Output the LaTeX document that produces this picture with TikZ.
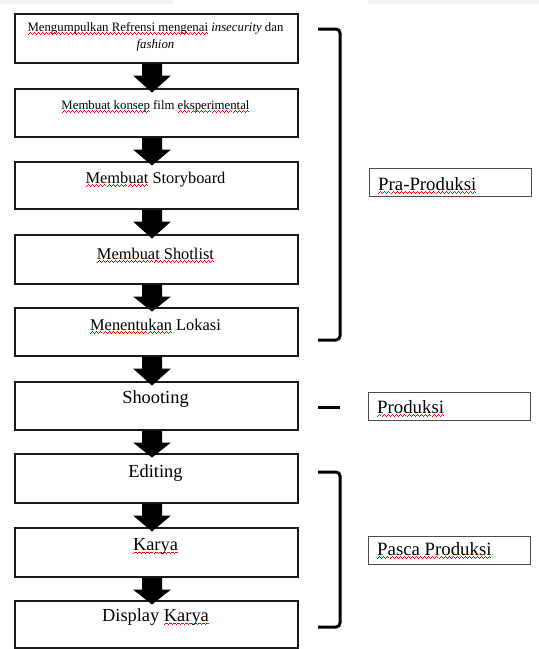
\documentclass[tikz,border=0pt]{standalone}
\usepackage{fontspec}
\setmainfont{Liberation Serif}
\usetikzlibrary{calc}
\newsavebox\wavebox
\newsavebox\wavetext
\newcommand\redwave[1]{\sbox\wavetext{#1}\rlap{\hbox to \wd\wavetext{\xleaders\copy\wavebox\hfil}}\usebox\wavetext}
\newcommand\fsA{\fontsize{12.8pt}{15pt}\selectfont}
\newcommand\fsB{\fontsize{16.4pt}{19pt}\selectfont}
\newcommand\fsC{\fontsize{18.4pt}{21pt}\selectfont}
\newcommand\fsL{\fontsize{18.8pt}{21pt}\selectfont}
\tikzset{
  flowbox/.style={draw=black!90, line width=2pt, minimum width=283pt, inner sep=0pt, anchor=north west},
  labelbox/.style={draw=black!70, line width=1.1pt, minimum width=162pt, minimum height=28pt, inner sep=0pt, anchor=north west},
  boxtext/.style={anchor=base, inner sep=0pt},
  labeltext/.style={anchor=base west, inner sep=0pt, font=\fsL},
  bracketline/.style={line width=3pt, rounded corners=4pt},
}
\newcommand\blockarrow[2]{%
  \fill let \p1=(#1.south), \p2=(#2.north) in
    (\x1-14.5pt,\y1) -- (\x1-14.5pt,\y1-11.5pt) -- (\x1-23.5pt,\y1-11.5pt) --
    (\x1-4.5pt,\y2-4.5pt) -- (\x1+14.5pt,\y1-11.5pt) -- (\x1+5.5pt,\y1-11.5pt) --
    (\x1+5.5pt,\y1) -- cycle;}
\begin{document}
\sbox\wavebox{\color{red}\rule[-3.5pt]{1pt}{0.9pt}\rule[-2.8pt]{1pt}{0.9pt}\rule[-2.1pt]{1pt}{0.9pt}\rule[-2.8pt]{1pt}{0.9pt}}
\begin{tikzpicture}[x=1pt, y=-1pt]
\useasboundingbox (0,0) rectangle (539,649);
\fill[black!5] (0,0) rectangle (173,3.5);
\fill[black!5] (368,0) rectangle (539,3.5);

% boxes
\node[flowbox, minimum height=49pt] (b1) at (14,13) {};
\node[flowbox, minimum height=48pt] (b2) at (14,88) {};
\node[flowbox, minimum height=47pt] (b3) at (14,161) {};
\node[flowbox, minimum height=49pt] (b4) at (14,234) {};
\node[flowbox, minimum height=48pt] (b5) at (14,307) {};
\node[flowbox, minimum height=48pt] (b6) at (14,381) {};
\node[flowbox, minimum height=49pt] (b7) at (14,453) {};
\node[flowbox, minimum height=49pt] (b8) at (14,527) {};
\node[flowbox, minimum height=47pt] (b9) at (14,600) {};

% texts
\node[boxtext, font=\fsA] (t1a) at (155.5,31) {\redwave{Mengumpulkan Refrensi mengenai} \textit{insecurity} dan};
\node[boxtext, font=\fsA] (t1b) at (155.5,48) {\textit{fashion}};
\node[boxtext, font=\fsA] (t2) at (155.5,109) {\redwave{Membuat konsep} film \redwave{eksperimental}};
\node[boxtext, font=\fsB] (t3) at (155.5,183) {\redwave{Membuat} Storyboard};
\node[boxtext, font=\fsB] (t4) at (155.5,259) {\redwave{Membuat Shotlist}};
\node[boxtext, font=\fsB] (t5) at (155.5,330) {\redwave{Menentukan} Lokasi};
\node[boxtext, font=\fsC] (t6) at (155.5,403.5) {Shooting};
\node[boxtext, font=\fsC] (t7) at (155.5,477) {Editing};
\node[boxtext, font=\fsC] (t8) at (155.5,550.5) {\redwave{Karya}};
\node[boxtext, font=\fsC] (t9) at (155.5,621.5) {Display \redwave{Karya}};

% arrows
\blockarrow{b1}{b2}
\blockarrow{b2}{b3}
\blockarrow{b3}{b4}
\blockarrow{b4}{b5}
\blockarrow{b5}{b6}
\blockarrow{b6}{b7}
\blockarrow{b7}{b8}
\blockarrow{b8}{b9}

% brackets
\draw[bracketline] (318,29) -- (340,29) -- (340,340) -- (318,340);
\draw[line width=3pt] (318,407) -- (340,407);
\draw[bracketline] (318,472) -- (340,472) -- (340,627) -- (318,627);

% labels
\node[labelbox] (l1) at (369,168) {};
\node[labeltext] (lt1) at (378,190) {\redwave{Pra-Produksi}};
\node[labelbox] (l2) at (368,392) {};
\node[labeltext] (lt2) at (377,413) {\redwave{Produksi}};
\node[labelbox] (l3) at (368,536) {};
\node[labeltext] (lt3) at (377,555) {\redwave{Pasca Produksi}};
\end{tikzpicture}
\end{document}
